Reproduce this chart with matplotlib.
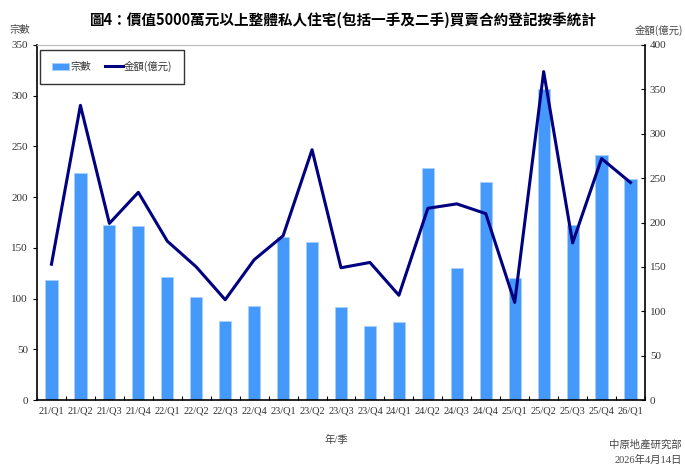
import matplotlib
matplotlib.use("Agg")
import matplotlib.pyplot as plt
import numpy as np
from matplotlib.ticker import FixedLocator

plt.rcParams['font.family'] = ['Liberation Serif', 'Noto Sans CJK TC', 'DejaVu Sans']

quarters = ["21/Q1", "21/Q2", "21/Q3", "21/Q4", "22/Q1", "22/Q2", "22/Q3", "22/Q4",
            "23/Q1", "23/Q2", "23/Q3", "23/Q4", "24/Q1", "24/Q2", "24/Q3", "24/Q4",
            "25/Q1", "25/Q2", "25/Q3", "25/Q4", "26/Q1"]
counts = [118, 224, 173, 172, 121, 102, 78, 93, 161, 156, 92, 73, 77, 229, 130, 215,
          120, 307, 173, 242, 218]
amounts = [153, 332, 199, 234, 179, 150, 113, 158, 185, 282, 149, 155, 118, 216, 221, 210,
           110, 370, 177, 272, 245]

cjk = ['Noto Sans CJK TC', 'DejaVu Sans']
serif_cjk = ['Liberation Serif', 'Noto Sans CJK TC']

fig = plt.figure(figsize=(6.85, 4.72), dpi=100)
ax = fig.add_axes([37/685, 72/472, 608/685, 355/472])
x = np.arange(len(quarters))
bars = ax.bar(x, counts, width=0.42, color='#4599FA', edgecolor='#A9D0FF', linewidth=0.6,
              label='宗數', zorder=2)
ax.set_xlim(-0.5, len(quarters) - 0.5)
ax.set_ylim(0, 350)
ax.set_yticks(np.arange(0, 351, 50))
ax.set_xticks(x)
ax.set_xticklabels(quarters, fontsize=7.5, color='#333333')
ax.xaxis.set_minor_locator(FixedLocator(np.arange(-0.5, len(quarters), 1)))
ax.tick_params(axis='x', which='major', length=0, pad=5)
ax.tick_params(axis='x', which='minor', length=3, direction='in', width=0.8)
ax.tick_params(axis='y', labelsize=8, colors='black', labelcolor='#333333',
               length=3, width=0.8, direction='out')
for s in ['left', 'bottom']:
    ax.spines[s].set_color('black')
    ax.spines[s].set_linewidth(1.2)
ax.spines['top'].set_color('#BBBBBB')
ax.spines['top'].set_linewidth(0.8)
ax.spines['right'].set_visible(False)

ax2 = ax.twinx()
line, = ax2.plot(x, amounts, color='#000080', linewidth=2.2, label='金額(億元)', zorder=3)
ax2.set_ylim(0, 400)
ax2.set_yticks(np.arange(0, 401, 50))
ax2.tick_params(axis='y', labelsize=8, colors='black', labelcolor='#333333',
                length=3, width=0.8, direction='in')
ax2.spines['right'].set_color('black')
ax2.spines['right'].set_linewidth(1.2)
for s in ['left', 'bottom', 'top']:
    ax2.spines[s].set_visible(False)

leg = ax2.legend([bars, line], ['宗數', '金額(億元)'], loc='upper left', ncol=2,
                 bbox_to_anchor=(0.002, 0.993), prop={'family': cjk, 'size': 7.5},
                 frameon=True, fancybox=False, handlelength=1.7, handletextpad=0.1,
                 columnspacing=1.3, borderpad=1.1, borderaxespad=0.2)
leg.get_frame().set_edgecolor('black')
leg.get_frame().set_linewidth(1.0)
for t in leg.get_texts():
    t.set_color('#333333')

fig.text(343/685, 1 - 20/472, '圖4：價值5000萬元以上整體私人住宅(包括一手及二手)買賣合約登記按季統計',
         ha='center', va='center', fontsize=10.5, fontweight='bold', family=cjk)
fig.text(20/685, 1 - 30/472, '宗數', ha='center', va='center', fontsize=7.5,
         family=cjk, color='#444444')
fig.text(683/685, 1 - 30/472, '金額(億元)', ha='right', va='center', fontsize=7.5,
         family=cjk, color='#444444')
fig.text(336/685, 1 - 440/472, '年/季', ha='center', va='center', fontsize=7.5,
         family=serif_cjk, color='#444444')
fig.text(682/685, 1 - 445/472, '中原地產研究部', ha='right', va='center', fontsize=7.5,
         family=cjk, color='#444444')
fig.text(682/685, 1 - 460/472, '2026年4月14日', ha='right', va='center', fontsize=7.5,
         family=serif_cjk, color='#444444')

fig.savefig('out.png', dpi=100)
